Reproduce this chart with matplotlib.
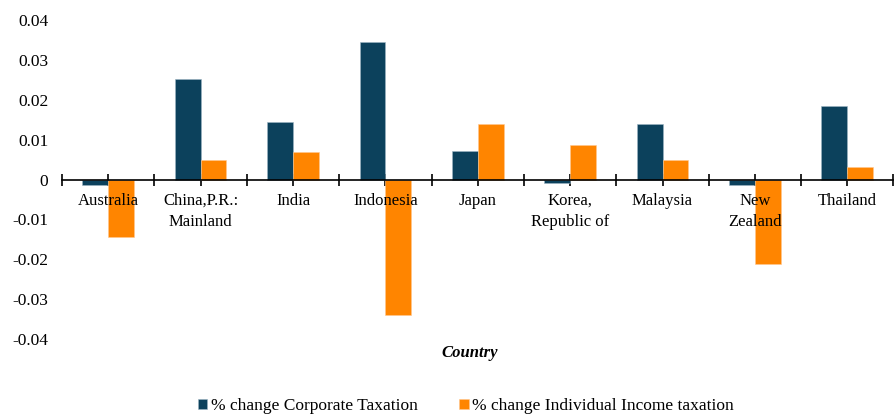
import numpy as np
import matplotlib.pyplot as plt

plt.rcParams['font.family'] = ['Liberation Serif', 'DejaVu Serif']

countries = ["Australia", "China,P.R.:\nMainland", "India", "Indonesia", "Japan",
             "Korea,\nRepublic of", "Malaysia", "New\nZealand", "Thailand"]
corporate = [-0.0014, 0.0253, 0.0144, 0.0344, 0.0072, -0.0009, 0.0140, -0.0014, 0.0185]
individual = [-0.0145, 0.0050, 0.0068, -0.0340, 0.0140, 0.0086, 0.0050, -0.0213, 0.0032]

blue = "#0C415C"
orange = "#FF8500"

fig = plt.figure(figsize=(8.94, 4.17), dpi=100)
ax = fig.add_axes([0.0694, 0.187, 0.93, 0.765])

x = np.arange(len(countries))
w = 0.28
ax.bar(x - w / 2, corporate, w, color=blue, edgecolor="#9db5c4", linewidth=0.4,
       label="% change Corporate Taxation", zorder=2)
ax.bar(x + w / 2, individual, w, color=orange, edgecolor="#ffc890", linewidth=0.4,
       label="% change Individual Income taxation", zorder=2)

ax.set_xlim(-0.5, len(countries) - 0.5)
ax.set_ylim(-0.04, 0.04)
ax.set_yticks(np.arange(-0.04, 0.041, 0.01))
ax.set_yticklabels(["-0.04", "-0.03", "-0.02", "-0.01", "0", "0.01", "0.02", "0.03", "0.04"])

for s in ["top", "right", "left", "bottom"]:
    ax.spines[s].set_visible(False)
ax.spines["bottom"].set_visible(True)
ax.spines["bottom"].set_position(("data", 0))
ax.spines["bottom"].set_linewidth(1.2)
ax.spines["bottom"].set_zorder(3)

ax.tick_params(axis="y", length=0, labelsize=12.5, pad=10)
ax.set_xticks(x)
ax.set_xticks(np.arange(-0.5, len(countries), 1.0), minor=True)
ax.set_xticklabels([])
ax.tick_params(axis="x", which="both", direction="inout", length=9, width=1.2)

# category names sit just under the zero line, on top of the bars
for i, name in enumerate(countries):
    ax.annotate(name, xy=(i, 0), xytext=(0, -9.5), textcoords="offset points",
                ha="center", va="top", fontsize=12, linespacing=1.4, zorder=4)

ax.set_xlabel("Country", fontsize=12, fontstyle="italic", fontweight="bold")
ax.xaxis.set_label_coords(0.49, -0.02)

fig.legend(loc="center", bbox_to_anchor=(0.521, 0.026), ncol=2, frameon=False,
           fontsize=12.5, handlelength=0.55, handleheight=0.55, handletextpad=0.2,
           columnspacing=2.4)

fig.savefig("out.png", dpi=100)
